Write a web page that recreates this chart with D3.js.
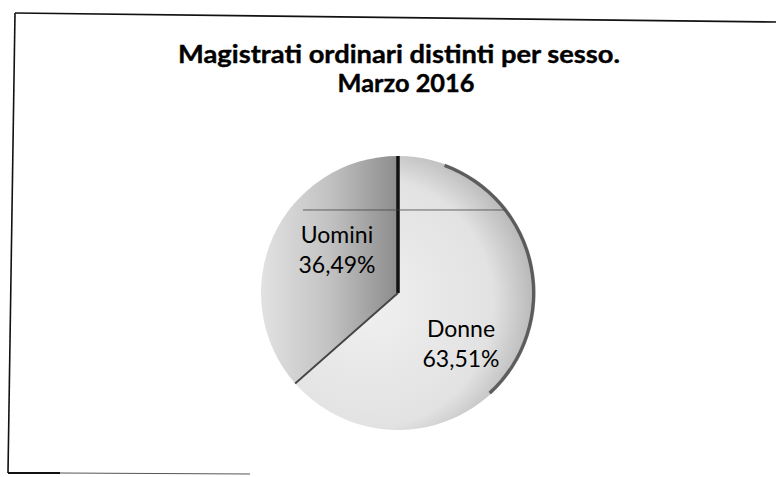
<!DOCTYPE html>
<html>
<head>
<meta charset="utf-8">
<script src="https://cdn.jsdelivr.net/npm/d3@7"></script>
<style>
  html, body { margin: 0; padding: 0; background: #fff; }
  svg { display: block; }
</style>
</head>
<body>
<svg id="chart" width="776" height="477"></svg>
<script>
// ---- data ----
const titleLines = ["Magistrati ordinari distinti per sesso.", "Marzo 2016"];
const categories = ["Donne", "Uomini"];
const values = [63.51, 36.49];
const valueLabels = ["63,51%", "36,49%"];

// ---- layout ----
const W = 776, H = 477;
const cx = 398, cy = 293, R = 137;
const svg = d3.select("#chart");

// frame (scanned, slightly tilted)
const frame = svg.append("g").attr("fill", "none").attr("stroke", "#111");
frame.append("path").attr("d", "M15,13 L776,22").attr("stroke-width", 1.6);
frame.append("path").attr("d", "M15,13 L8,473").attr("stroke-width", 1.6);
frame.append("path").attr("d", "M8,473 L60,473").attr("stroke-width", 2);
frame.append("path").attr("d", "M60,473 L250,474").attr("stroke-width", 1).attr("stroke", "#555");

// title
const title = svg.append("g")
  .attr("font-family", "Lato, 'Open Sans', sans-serif")
  .attr("font-weight", "bold")
  .attr("fill", "#000")
  .attr("stroke", "#000").attr("stroke-width", 0.4)
  .attr("text-anchor", "middle");
title.append("text").attr("x", 399).attr("y", 63).attr("font-size", 25)
  .attr("textLength", 442).attr("lengthAdjust", "spacingAndGlyphs").text(titleLines[0]);
title.append("text").attr("x", 406).attr("y", 92).attr("font-size", 25)
  .attr("textLength", 137).attr("lengthAdjust", "spacingAndGlyphs").text(titleLines[1]);

// gradients (in the pie group's local coordinates)
const defs = svg.append("defs");
const gU = defs.append("linearGradient").attr("id", "gU")
  .attr("gradientUnits", "userSpaceOnUse")
  .attr("x1", -R).attr("x2", 0).attr("y1", 0).attr("y2", 0);
gU.append("stop").attr("offset", "0").attr("stop-color", "#e2e2e2");
gU.append("stop").attr("offset", "0.5").attr("stop-color", "#c2c2c2");
gU.append("stop").attr("offset", "1").attr("stop-color", "#8c8c8c");

const gD = defs.append("radialGradient").attr("id", "gD")
  .attr("gradientUnits", "userSpaceOnUse")
  .attr("cx", -30).attr("cy", 10).attr("r", R + 30);
gD.append("stop").attr("offset", "0").attr("stop-color", "#f0f0f0");
gD.append("stop").attr("offset", "0.75").attr("stop-color", "#e2e2e2");
gD.append("stop").attr("offset", "1").attr("stop-color", "#b8b8b8");

// pie
const pie = d3.pie().sort(null).value(d => d.v);
const data = categories.map((c, i) => ({ c, v: values[i], label: valueLabels[i] }));
const arcs = pie(data);
const arc = d3.arc().innerRadius(0).outerRadius(R);

const g = svg.append("g").attr("transform", `translate(${cx},${cy})`);
g.selectAll("path.slice").data(arcs).join("path")
  .attr("class", "slice")
  .attr("d", arc)
  .attr("fill", d => d.data.c === "Uomini" ? "url(#gU)" : "url(#gD)")
  .attr("stroke", "none");

// dark rim on the right side of Donne
const rim = d3.arc().innerRadius(R - 3).outerRadius(R + 0.5);
g.append("path")
  .attr("d", rim({ startAngle: arcs[0].startAngle + 0.35, endAngle: arcs[0].startAngle + 2.4 }))
  .attr("fill", "#333").attr("opacity", 0.7);

// slice boundary lines
const line = d3.lineRadial();
g.append("path")
  .attr("d", line([[arcs[1].endAngle, 0], [arcs[1].endAngle, R]]))
  .attr("stroke", "#111").attr("stroke-width", 3.5).attr("fill", "none");
g.append("path")
  .attr("d", line([[arcs[1].startAngle, 0], [arcs[1].startAngle, R]]))
  .attr("stroke", "#444").attr("stroke-width", 1.8).attr("fill", "none");

// scan artifact line
svg.append("line").attr("x1", cx - 95).attr("x2", cx + 107)
  .attr("y1", cy - 0.606 * R).attr("y2", cy - 0.606 * R)
  .attr("stroke", "#444").attr("stroke-width", 0.8);

// labels
const labelPos = { "Uomini": [337, 243], "Donne": [461, 337] };
const lg = svg.append("g")
  .attr("font-family", "Lato, 'Open Sans', sans-serif")
  .attr("font-size", 23)
  .attr("fill", "#000")
  .attr("text-anchor", "middle");
data.forEach(d => {
  const [x, y] = labelPos[d.c];
  lg.append("text").attr("x", x).attr("y", y).text(d.c);
  lg.append("text").attr("x", x).attr("y", y + 30).text(d.label);
});
</script>
</body>
</html>
